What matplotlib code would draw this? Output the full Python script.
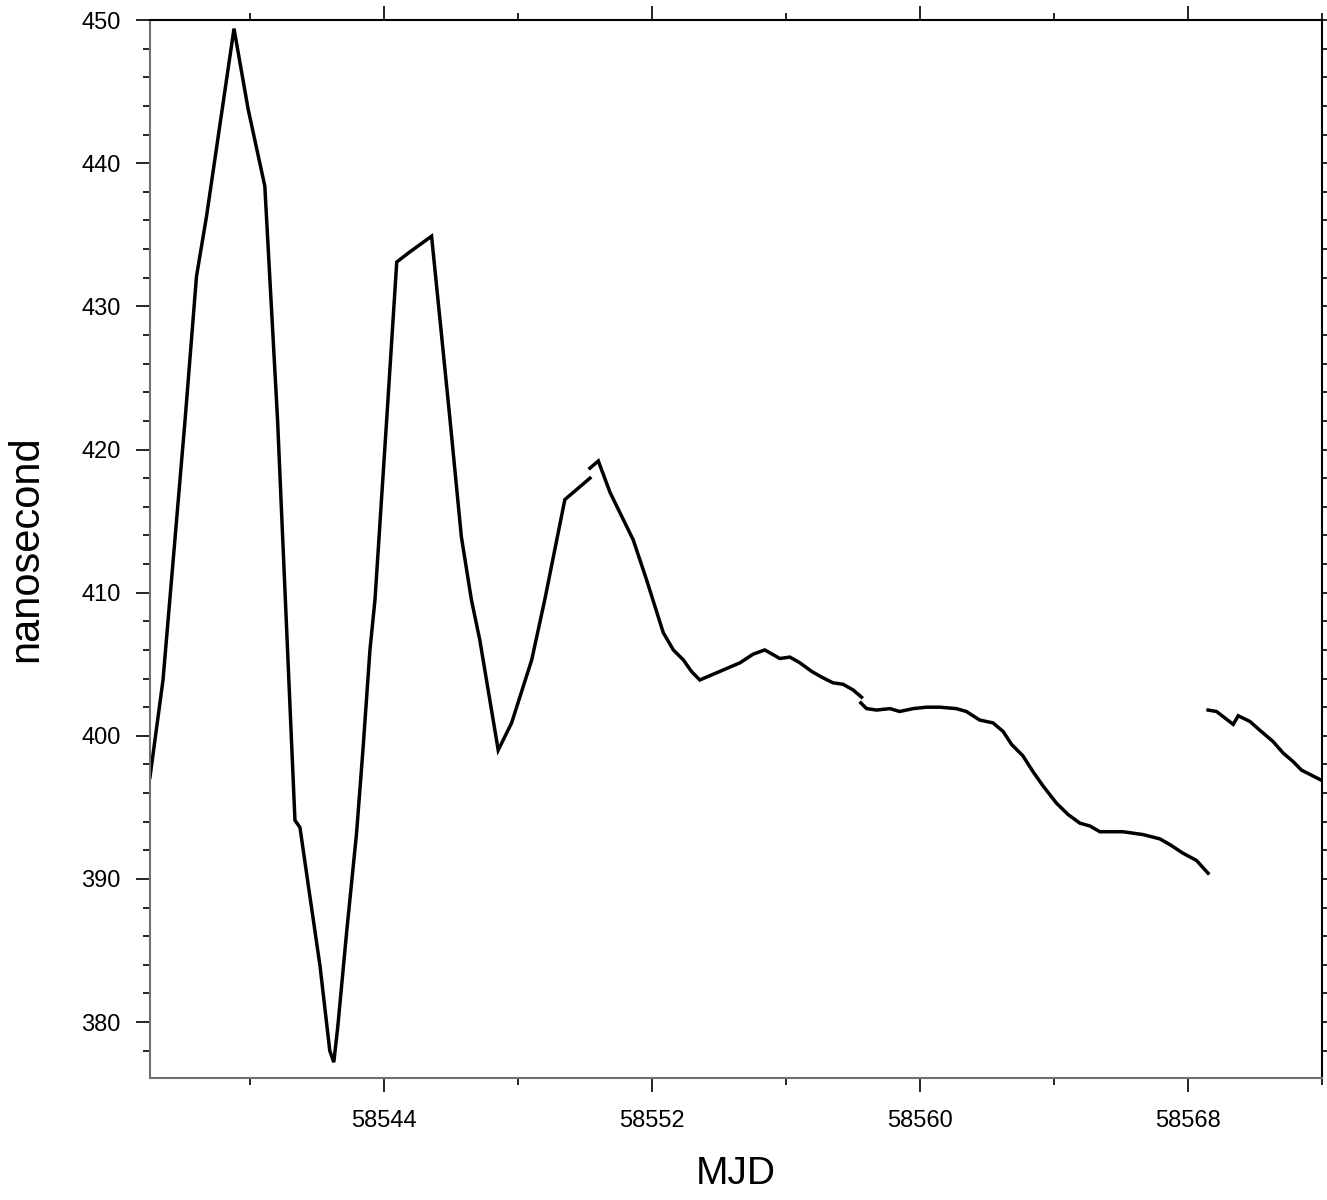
import matplotlib.pyplot as plt
from matplotlib.ticker import MultipleLocator

plt.rcParams['font.family'] = ['Liberation Sans', 'DejaVu Sans']

# Time offset (ns) vs MJD, one list pair per unbroken run
mjd_a = [58537.0, 58537.39, 58538.05, 58538.39, 58538.69, 58539.51, 58539.93, 58540.43,
         58540.81, 58541.33, 58541.48, 58541.72, 58542.08, 58542.37, 58542.49, 58542.61,
         58542.87, 58543.17, 58543.36, 58543.57, 58543.72, 58544.07, 58544.37, 58544.76,
         58545.41, 58545.66, 58545.96, 58546.30, 58546.60, 58546.85, 58547.15, 58547.40,
         58547.80, 58548.40, 58548.79, 58549.39, 58549.74, 58550.14]
ns_a = [397.1, 403.9, 422.1, 432.1, 436.3, 449.4, 443.8, 438.4,
        422.1, 394.1, 393.6, 389.7, 383.9, 378.0, 377.2, 379.7,
        386.2, 393.2, 399.0, 406.0, 409.5, 422.1, 433.1, 433.8,
        434.9, 429.1, 422.1, 413.9, 409.5, 406.7, 402.5, 399.0,
        400.9, 405.3, 409.5, 416.5, 417.2, 418.0]

mjd_b = [58550.14, 58550.39, 58550.74, 58551.43, 58551.83, 58552.33, 58552.63, 58552.93,
         58553.17, 58553.42, 58554.12, 58554.62, 58555.01, 58555.36, 58555.81, 58556.11,
         58556.41, 58556.76, 58557.06, 58557.40, 58557.70, 58558.00, 58558.25]
ns_b = [418.7, 419.2, 417.0, 413.7, 410.9, 407.2, 406.0, 405.3,
        404.5, 403.9, 404.6, 405.1, 405.7, 406.0, 405.4, 405.5,
        405.1, 404.5, 404.1, 403.7, 403.6, 403.2, 402.7]

mjd_c = [58558.23, 58558.40, 58558.70, 58559.10, 58559.39, 58559.79, 58560.19, 58560.59,
         58561.08, 58561.38, 58561.78, 58562.18, 58562.48, 58562.73, 58563.07, 58563.37,
         58563.67, 58564.07, 58564.42, 58564.77, 58565.07, 58565.37, 58566.06, 58566.66,
         58567.16, 58567.46, 58567.85, 58568.25, 58568.60]
ns_c = [402.3, 401.9, 401.8, 401.9, 401.7, 401.9, 402.0, 402.0,
        401.9, 401.7, 401.1, 400.9, 400.3, 399.4, 398.6, 397.5,
        396.5, 395.3, 394.5, 393.9, 393.7, 393.3, 393.3, 393.1,
        392.8, 392.4, 391.8, 391.3, 390.4]

mjd_d = [58568.60, 58568.85, 58569.35, 58569.50, 58569.85, 58570.14, 58570.54, 58570.84,
         58571.14, 58571.39, 58571.73, 58571.98]
ns_d = [401.8, 401.7, 400.8, 401.4, 401.0, 400.4, 399.6, 398.8,
        398.2, 397.6, 397.2, 396.9]

fig = plt.figure(figsize=(13.27, 12), dpi=100)
ax = fig.add_axes([0.113, 0.1017, 0.8832, 0.8816])

for x, y in [(mjd_a, ns_a), (mjd_b, ns_b), (mjd_c, ns_c), (mjd_d, ns_d)]:
    ax.plot(x, y, color='black', lw=2.5, solid_joinstyle='miter')

ax.set_xlim(58537, 58572)
ax.set_ylim(376.1, 450)
ax.xaxis.set_major_locator(MultipleLocator(8))
ax.xaxis.set_minor_locator(MultipleLocator(4))
ax.yaxis.set_major_locator(MultipleLocator(10))
ax.yaxis.set_minor_locator(MultipleLocator(2))

ax.tick_params(which='both', direction='out', top=True, right=True, width=1.2, labelsize=17)
ax.tick_params(which='major', length=10)
ax.tick_params(which='minor', length=5)
ax.tick_params(axis='x', pad=13)
ax.tick_params(axis='y', pad=11)

for side in ['left', 'bottom']:
    ax.spines[side].set_color('#707070')
for side in ax.spines:
    ax.spines[side].set_linewidth(1.5)

ax.set_xlabel('MJD', fontsize=28, labelpad=17)
ax.set_ylabel('nanosecond', fontsize=30, labelpad=25)

fig.savefig('out.png', dpi=100)
